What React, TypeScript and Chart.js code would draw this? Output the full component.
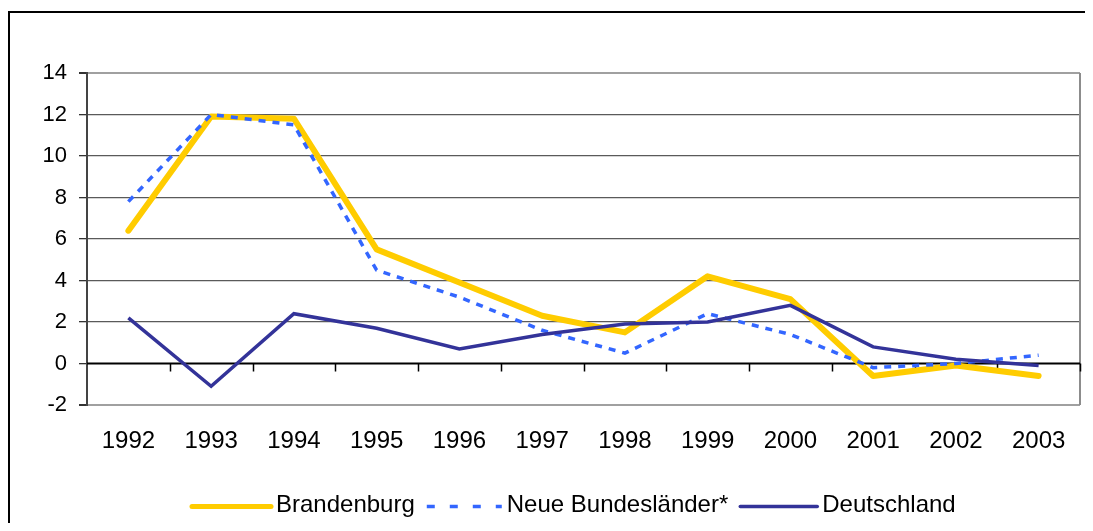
import React, { useEffect, useRef } from "react";
import { Chart, registerables } from "chart.js";

Chart.register(...registerables);

const years = ["1992", "1993", "1994", "1995", "1996", "1997", "1998", "1999", "2000", "2001", "2002", "2003"];
const brandenburg = [6.4, 11.9, 11.8, 5.5, 3.9, 2.3, 1.5, 4.2, 3.1, -0.6, -0.1, -0.6];
const neueBundeslaender = [7.8, 12.0, 11.5, 4.5, 3.2, 1.6, 0.5, 2.4, 1.4, -0.2, 0.0, 0.4];
const deutschland = [2.2, -1.1, 2.4, 1.7, 0.7, 1.4, 1.9, 2.0, 2.8, 0.8, 0.2, -0.1];
const seriesLabels = ["Brandenburg", "Neue Bundesländer*", "Deutschland"];

const FONT = '"Liberation Sans", Arial, sans-serif';

const decorPlugin = {
  id: "decor",
  beforeDatasetsDraw(chart: any) {
    const ctx = chart.ctx;
    const a = chart.chartArea;
    const yScale = chart.scales.y;
    ctx.save();
    // right border of plot
    ctx.strokeStyle = "#8c8c8c";
    ctx.lineWidth = 2;
    ctx.beginPath();
    ctx.moveTo(a.right, a.top);
    ctx.lineTo(a.right, a.bottom);
    ctx.stroke();
    // zero line + category boundary ticks
    const y0 = yScale.getPixelForValue(0);
    ctx.strokeStyle = "#000";
    ctx.lineWidth = 2;
    ctx.beginPath();
    ctx.moveTo(a.left, y0);
    ctx.lineTo(a.right, y0);
    ctx.stroke();
    const n = years.length;
    const w = (a.right - a.left) / n;
    ctx.lineWidth = 1.5;
    ctx.beginPath();
    for (let k = 1; k <= n; k++) {
      const x = Math.round(a.left + k * w) + 0.5;
      ctx.moveTo(x, y0);
      ctx.lineTo(x, y0 + 8);
    }
    ctx.stroke();
    ctx.restore();
  },
  afterDraw(chart: any) {
    const ctx = chart.ctx;
    ctx.save();
    // outer frame (top and left visible)
    ctx.strokeStyle = "#000";
    ctx.lineWidth = 2;
    ctx.beginPath();
    ctx.moveTo(1, chart.height);
    ctx.lineTo(1, 4);
    ctx.lineTo(chart.width, 4);
    ctx.stroke();

    // legend
    ctx.font = "24px " + FONT;
    ctx.textBaseline = "alphabetic";
    ctx.textAlign = "left";
    let x = 183;
    const lineY = 498.5;
    const baseY = 504;
    const samples = [80, 76, 78];
    chart.data.datasets.forEach((ds: any, i: number) => {
      const sample = samples[i];
      ctx.strokeStyle = ds.borderColor;
      ctx.lineWidth = i === 0 ? 5 : ds.borderWidth;
      ctx.lineCap = i === 1 ? "butt" : "round";
      ctx.setLineDash(i === 1 ? [8, 15] : []);
      ctx.beginPath();
      ctx.moveTo(x + 1, lineY);
      ctx.lineTo(x + sample, lineY);
      ctx.stroke();
      ctx.setLineDash([]);
      ctx.fillStyle = "#000";
      ctx.fillText(ds.label, x + sample + 5, baseY);
      x += sample + 5 + ctx.measureText(ds.label).width + 11;
    });
    ctx.restore();
  },
};

export default function App() {
  const ref = useRef<HTMLCanvasElement>(null);
  useEffect(() => {
    if (!ref.current) return;
    const chart = new Chart(ref.current, {
      type: "line",
      data: {
        labels: years,
        datasets: [
          {
            label: seriesLabels[0],
            data: brandenburg,
            borderColor: "#FFCC00",
            borderWidth: 6,
            pointRadius: 0,
            tension: 0,
            order: 3,
            borderCapStyle: "round",
            borderJoinStyle: "round",
          },
          {
            label: seriesLabels[1],
            data: neueBundeslaender,
            borderColor: "#3366FF",
            borderWidth: 3.5,
            borderDash: [7, 7],
            pointRadius: 0,
            tension: 0,
            order: 2,
          },
          {
            label: seriesLabels[2],
            data: deutschland,
            borderColor: "#333399",
            borderWidth: 3.5,
            pointRadius: 0,
            tension: 0,
            order: 1,
          },
        ],
      },
      options: {
        responsive: false,
        animation: false,
        layout: { padding: { top: 65, right: 5, left: 0, bottom: 0 } },
        plugins: { legend: { display: false }, tooltip: { enabled: false } },
        scales: {
          x: {
            offset: true,
            grid: { display: false },
            border: { display: false },
            ticks: {
              color: "#000",
              font: { family: FONT, size: 24 },
              padding: 14,
              maxRotation: 0,
              autoSkip: false,
            },
            afterFit: (s: any) => {
              s.height = 118;
            },
          },
          y: {
            min: -2,
            max: 14,
            ticks: {
              stepSize: 2,
              color: "#000",
              font: { family: FONT, size: 22 },
              padding: 12,
            },
            grid: {
              color: (c: any) =>
                c.tick && (c.tick.value === 14 || c.tick.value === -2) ? "#a0a0a0" : c.tick && c.tick.value === 0 ? "rgba(0,0,0,0)" : "#5a5a5a",
              lineWidth: (c: any) => (c.tick && (c.tick.value === 14 || c.tick.value === -2) ? 2 : 1.3),
              tickLength: 8,
              tickColor: "#333",
            },
            border: { display: true, color: "#444", width: 2 },
            afterFit: (s: any) => {
              s.width = 79;
            },
          },
        },
      },
      plugins: [decorPlugin],
    } as any);
    return () => chart.destroy();
  }, []);
  return (
    <div style={{ width: 1077, height: 515 }}>
      <canvas ref={ref} width={1077} height={515} style={{ display: "block" }} />
    </div>
  );
}
